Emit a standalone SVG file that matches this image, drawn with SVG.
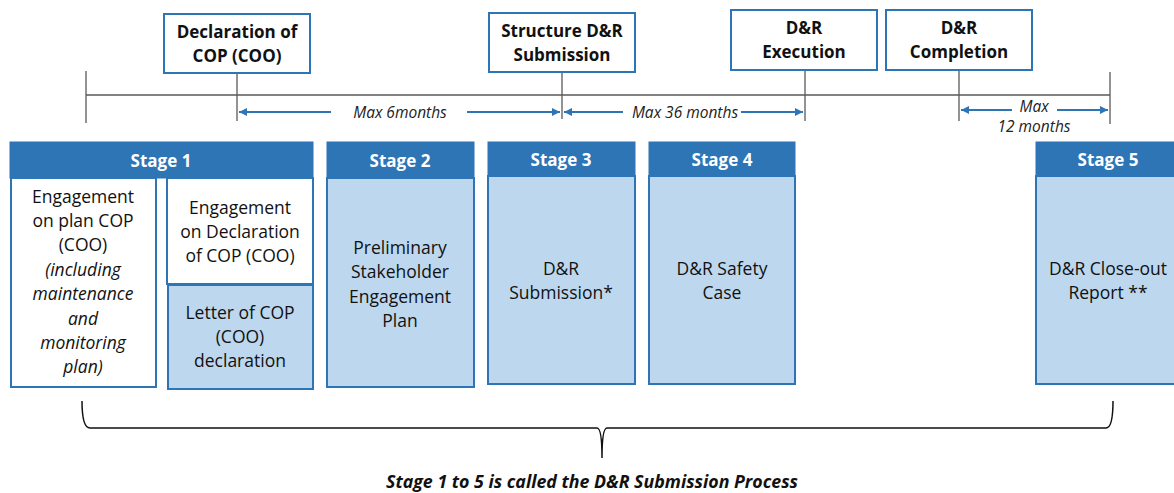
<svg xmlns="http://www.w3.org/2000/svg" width="1174" height="493" viewBox="0 0 1174 493">
<defs>
<style>
.ms{fill:#fff;stroke:#2E75B6;stroke-width:2}
.hd{fill:#2E75B6;stroke:#2E75B6;stroke-width:1}
.bw{fill:#fff;stroke:#2E75B6;stroke-width:2}
.bl{fill:#BDD7EE;stroke:#2E75B6;stroke-width:2}
.tl{stroke:#595959;stroke-width:1.3;fill:none}
.ar{stroke:#2E75B6;stroke-width:2;fill:none}
.mt{font-family:"Open Sans","Liberation Sans",sans-serif;font-weight:bold;font-size:17px;fill:#111;text-anchor:middle}
.ht{font-family:"Open Sans","Liberation Sans",sans-serif;font-weight:bold;font-size:17px;fill:#fff;text-anchor:middle}
.bt{font-family:"Open Sans","Liberation Sans",sans-serif;font-size:17.5px;fill:#111;text-anchor:middle}
.it{font-style:italic}
.lb{font-family:"Open Sans","Liberation Sans",sans-serif;font-style:italic;font-size:15.5px;fill:#222;text-anchor:middle}
.ft{font-family:"Open Sans","Liberation Sans",sans-serif;font-style:italic;font-weight:bold;font-size:17.5px;fill:#111;text-anchor:middle}
</style>
<marker id="ah" viewBox="0 0 10 10" refX="10" refY="5" markerWidth="4" markerHeight="4" orient="auto-start-reverse" markerUnits="strokeWidth">
<path d="M0,0 L10,5 L0,10 z" fill="#2E75B6"/>
</marker>
</defs>

<g id="connectors">
<line class="tl" x1="86" y1="95" x2="1110" y2="95"/>
<line class="tl" x1="86" y1="71" x2="86" y2="123"/>
<line class="tl" x1="237" y1="73" x2="237" y2="121"/>
<line class="tl" x1="562" y1="72" x2="562" y2="119"/>
<line class="tl" x1="805" y1="70" x2="805" y2="121"/>
<line class="tl" x1="959" y1="70" x2="959" y2="121"/>
<line class="tl" x1="1110" y1="72" x2="1110" y2="124"/>
<line class="ar" x1="331" y1="112" x2="239" y2="112" marker-end="url(#ah)"/>
<line class="ar" x1="467" y1="112" x2="560" y2="112" marker-end="url(#ah)"/>
<line class="ar" x1="623" y1="112" x2="564" y2="112" marker-end="url(#ah)"/>
<line class="ar" x1="741" y1="112" x2="803" y2="112" marker-end="url(#ah)"/>
<line class="ar" x1="1012" y1="110" x2="961" y2="110" marker-end="url(#ah)"/>
<line class="ar" x1="1057" y1="110" x2="1108" y2="110" marker-end="url(#ah)"/>
<path d="M82,401 Q82,428 90,428 L597,428 Q602,428 602,458 Q602,428 607,428 L1106,428 Q1113,428 1113,401" fill="none" stroke="#111" stroke-width="1.5"/>
</g>

<g id="labels">
<text class="lb" x="400" y="118">Max 6months</text>
<text class="lb" x="685" y="118">Max 36 months</text>
<text class="lb" x="1034" y="112">Max</text>
<text class="lb" x="1034" y="132">12 months</text>
<text class="ft" x="592" y="488" textLength="412" lengthAdjust="spacingAndGlyphs">Stage 1 to 5 is called the D&amp;R Submission Process</text>
</g>

<g id="m-declaration">
<rect class="ms" x="164" y="14" width="146" height="59"/>
<text class="mt" x="237" y="38">Declaration of</text>
<text class="mt" x="237" y="62">COP (COO)</text>
</g>
<g id="m-structure">
<rect class="ms" x="489" y="13" width="146" height="59"/>
<text class="mt" x="562" y="37">Structure D&amp;R</text>
<text class="mt" x="562" y="61">Submission</text>
</g>
<g id="m-execution">
<rect class="ms" x="731" y="10" width="146" height="60"/>
<text class="mt" x="804" y="34">D&amp;R</text>
<text class="mt" x="804" y="58">Execution</text>
</g>
<g id="m-completion">
<rect class="ms" x="886" y="10" width="146" height="60"/>
<text class="mt" x="959" y="34">D&amp;R</text>
<text class="mt" x="959" y="58">Completion</text>
</g>

<g id="stage1">
<rect class="hd" x="10" y="142" width="303" height="36"/>
<text class="ht" x="161" y="167">Stage 1</text>
</g>
<g id="s1-plan">
<rect class="bw" x="11" y="178" width="145" height="209"/>
<text class="bt" x="83" y="203">Engagement</text>
<text class="bt" x="83" y="227">on plan COP</text>
<text class="bt" x="83" y="251">(COO)</text>
<text class="bt it" x="83" y="276">(including</text>
<text class="bt it" x="83" y="300">maintenance</text>
<text class="bt it" x="83" y="325">and</text>
<text class="bt it" x="83" y="349">monitoring</text>
<text class="bt it" x="83" y="373">plan)</text>
</g>
<g id="s1-decl">
<rect class="bw" x="167" y="178" width="146" height="106"/>
<text class="bt" x="240" y="214">Engagement</text>
<text class="bt" x="240" y="238">on Declaration</text>
<text class="bt" x="240" y="262">of COP (COO)</text>
</g>
<g id="s1-letter">
<rect class="bl" x="168" y="285" width="145" height="104"/>
<text class="bt" x="240" y="319">Letter of COP</text>
<text class="bt" x="240" y="343">(COO)</text>
<text class="bt" x="240" y="367">declaration</text>
</g>

<g id="stage2">
<rect class="bl" x="327" y="178" width="147" height="209"/>
<rect class="hd" x="327" y="142" width="147" height="36"/>
<text class="ht" x="400" y="167">Stage 2</text>
<text class="bt" x="400" y="254">Preliminary</text>
<text class="bt" x="400" y="278">Stakeholder</text>
<text class="bt" x="400" y="303">Engagement</text>
<text class="bt" x="400" y="327">Plan</text>
</g>
<g id="stage3">
<rect class="bl" x="488" y="176" width="147" height="208"/>
<rect class="hd" x="488" y="142" width="147" height="34"/>
<text class="ht" x="561" y="166">Stage 3</text>
<text class="bt" x="561" y="275">D&amp;R</text>
<text class="bt" x="561" y="299">Submission*</text>
</g>
<g id="stage4">
<rect class="bl" x="649" y="176" width="146" height="208"/>
<rect class="hd" x="649" y="142" width="146" height="34"/>
<text class="ht" x="722" y="166">Stage 4</text>
<text class="bt" x="722" y="275">D&amp;R Safety</text>
<text class="bt" x="722" y="299">Case</text>
</g>
<g id="stage5">
<rect class="bl" x="1036" y="176" width="150" height="208"/>
<rect class="hd" x="1036" y="142" width="150" height="34"/>
<text class="ht" x="1108" y="166">Stage 5</text>
<text class="bt" x="1108" y="275">D&amp;R Close-out</text>
<text class="bt" x="1108" y="299">Report **</text>
</g>
</svg>
